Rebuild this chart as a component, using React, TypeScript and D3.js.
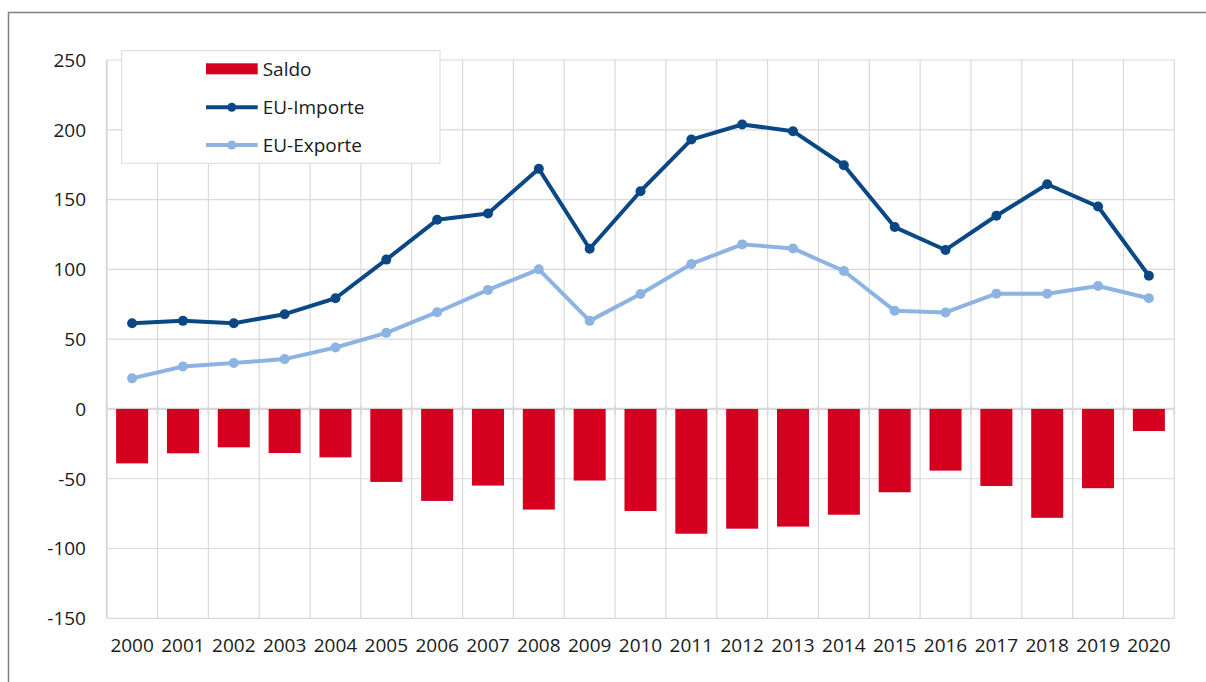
import React from "react";
import * as d3 from "d3";

const years = [
  "2000", "2001", "2002", "2003", "2004", "2005", "2006", "2007", "2008", "2009", "2010",
  "2011", "2012", "2013", "2014", "2015", "2016", "2017", "2018", "2019", "2020",
];
const importe = [
  61.4, 63.1, 61.4, 67.9, 79.3, 107, 135.5, 140, 172, 114.8, 156,
  193, 203.8, 199, 174.6, 130.3, 113.9, 138.4, 161, 145, 95.4,
];
const exporte = [
  21.9, 30.4, 32.9, 35.7, 44, 54.5, 69.3, 85.3, 100, 63.1, 82.4,
  103.9, 117.9, 115, 98.8, 70.3, 69.1, 82.6, 82.6, 88.1, 79.3,
];
const saldo = [
  -39, -31.8, -27.5, -31.6, -34.7, -52.3, -65.9, -54.9, -72.1, -51.3, -73.1,
  -89.4, -85.8, -84.3, -75.8, -59.7, -44.2, -55.2, -78, -56.8, -15.8,
];
const yTicks = [-150, -100, -50, 0, 50, 100, 150, 200, 250];

const RED = "#d5001f";
const DARK = "#0a4885";
const LIGHT = "#8db3e2";
const GRID = "#d9d9d9";
const FONT = "'Open Sans', sans-serif";
const FS = 19;

export default function App() {
  const width = 1206;
  const height = 682;
  const left = 106.7;
  const right = 1174.3;

  const x = d3.scaleBand<string>().domain(years).range([left, right]).paddingInner(0).paddingOuter(0);
  const y = d3.scaleLinear().domain([-150, 250]).range([618.3, 60]);
  const barW = x.bandwidth() * 0.63;
  const cx = (yr: string) => (x(yr) ?? 0) + x.bandwidth() / 2;

  const line = d3
    .line<number>()
    .x((_, i) => cx(years[i]))
    .y((d) => y(d));

  const boundaries = years.map((yr) => x(yr) ?? 0).concat([right]);

  return (
    <svg
      width={width}
      height={height}
      style={{ position: "absolute", left: 0, top: 0, background: "#fff" }}
      fontFamily={FONT}
    >
      {/* outer frame, cut by the window */}
      <rect x={8.5} y={12.5} width={1300} height={800} fill="none" stroke="#7f7f7f" strokeWidth={1.5} />

      {/* grid */}
      <g>
        {yTicks.map((t) => (
          <line key={`h-${t}`} x1={left} x2={right} y1={y(t)} y2={y(t)} stroke={GRID} strokeWidth={1.2} />
        ))}
        {boundaries.map((bx, i) => (
          <line key={`v-${i}`} x1={bx} x2={bx} y1={y(250)} y2={y(-150)} stroke={GRID} strokeWidth={1.2} />
        ))}
        <line x1={left} x2={left} y1={y(250)} y2={y(-150)} stroke={GRID} strokeWidth={2} />
        <line x1={left} x2={right} y1={y(0)} y2={y(0)} stroke={GRID} strokeWidth={2.2} />
        {boundaries.map((bx, i) => (
          <line key={`t-${i}`} x1={bx} x2={bx} y1={y(0) - 3} y2={y(0) + 6} stroke={GRID} strokeWidth={1.8} />
        ))}
      </g>

      {/* y labels */}
      {yTicks.map((t) => (
        <text key={`yl-${t}`} x={86} y={y(t)} dy="0.36em" textAnchor="end" fontSize={FS} fill="#1a1a1a">
          {t}
        </text>
      ))}

      {/* x labels */}
      {years.map((yr) => (
        <text key={`xl-${yr}`} x={cx(yr)} y={652} textAnchor="middle" fontSize={FS} fill="#1a1a1a">
          {yr}
        </text>
      ))}

      {/* bars */}
      {saldo.map((v, i) => (
        <rect
          key={`b-${i}`}
          x={cx(years[i]) - barW / 2}
          y={y(Math.max(0, v))}
          width={barW}
          height={Math.abs(y(v) - y(0))}
          fill={RED}
        />
      ))}

      {/* lines */}
      <path d={line(exporte) ?? ""} fill="none" stroke={LIGHT} strokeWidth={4} strokeLinejoin="round" />
      {exporte.map((v, i) => (
        <circle key={`e-${i}`} cx={cx(years[i])} cy={y(v)} r={5} fill={LIGHT} />
      ))}
      <path d={line(importe) ?? ""} fill="none" stroke={DARK} strokeWidth={4} strokeLinejoin="round" />
      {importe.map((v, i) => (
        <circle key={`m-${i}`} cx={cx(years[i])} cy={y(v)} r={5} fill={DARK} />
      ))}

      {/* legend */}
      <g>
        <rect x={121.7} y={50.7} width={318.3} height={112.6} fill="#fff" stroke={GRID} strokeWidth={1} />
        <rect x={206} y={63.3} width={51.7} height={11} fill={RED} />
        <text x={262.7} y={69} dy="0.36em" fontSize={FS} fill="#1a1a1a">Saldo</text>

        <line x1={206} x2={257.7} y1={107.3} y2={107.3} stroke={DARK} strokeWidth={4} />
        <circle cx={231.8} cy={107.3} r={4.5} fill={DARK} />
        <text x={262.7} y={107.3} dy="0.36em" fontSize={FS} fill="#1a1a1a">EU-Importe</text>

        <line x1={206} x2={257.7} y1={145} y2={145} stroke={LIGHT} strokeWidth={4} />
        <circle cx={231.8} cy={145} r={4.5} fill={LIGHT} />
        <text x={262.7} y={145} dy="0.36em" fontSize={FS} fill="#1a1a1a">EU-Exporte</text>
      </g>
    </svg>
  );
}
